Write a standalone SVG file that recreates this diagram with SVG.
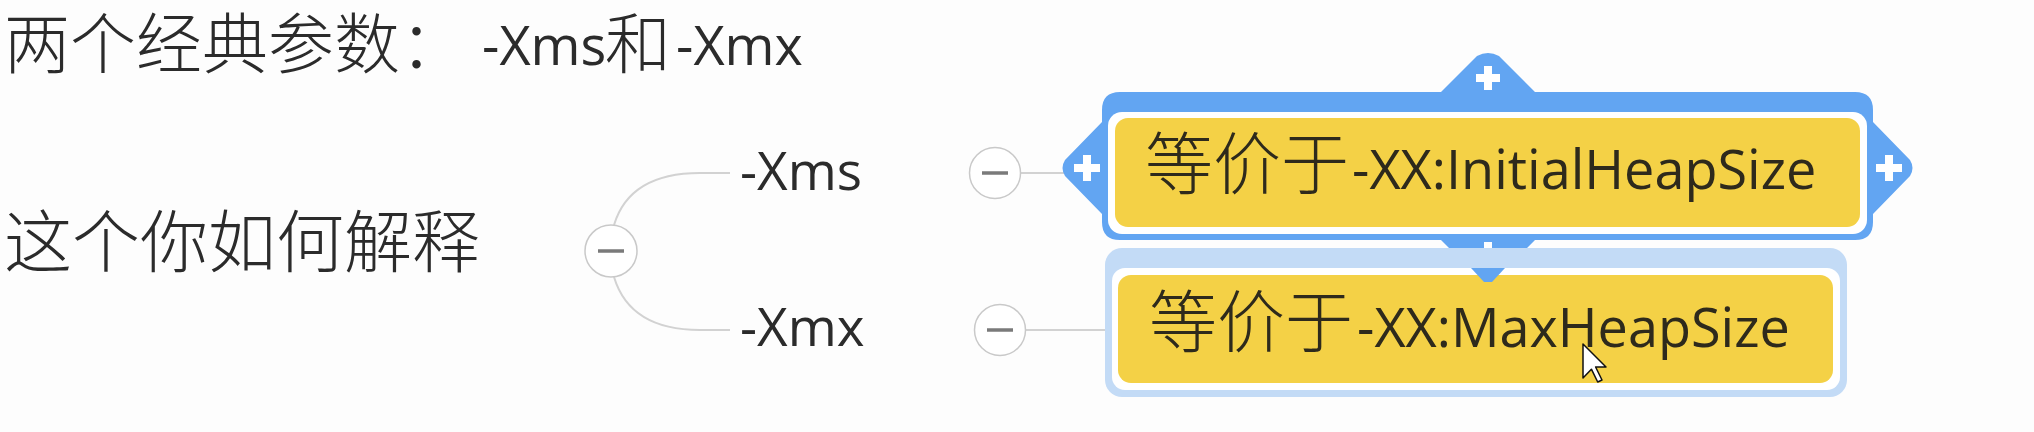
<svg xmlns="http://www.w3.org/2000/svg" width="2034" height="432" viewBox="0 0 2034 432">
<style>
.cjk{font-family:"Noto Sans CJK SC","Noto Sans",sans-serif;font-weight:300;}
.lat{font-family:"Open Sans","Noto Sans",sans-serif;}
.txt{fill:#2b2b2b}
.ntxt{fill:#2e2a1c}
.conn{fill:none;stroke:#d2d2d2;stroke-width:2}
.col{fill:#fff;stroke:#c9c9c9;stroke-width:1.5}
.minus{stroke:#7a7a7a;stroke-width:3.5}
.plus{fill:#fff}
.yellow{fill:#f4d146}
</style>
<rect width="2034" height="432" fill="#fdfdfd"/>

<g id="connectors">
  <path class="conn" d="M614,225 C624,192 650,173 700,173 L730,173"/>
  <path class="conn" d="M614,277 C624,310 650,330 700,330 L730,330"/>
  <path class="conn" d="M1021,173 L1115,173"/>
  <path class="conn" d="M1025,330 L1118,330"/>
</g>

<g id="title">
  <text y="68" class="txt"><tspan x="4" class="cjk" font-size="66">两个经典参数：</tspan><tspan x="482" y="65" class="lat" font-size="54">-Xms</tspan><tspan x="605" y="68" class="cjk" font-size="66">和</tspan><tspan x="676" y="65" class="lat" font-size="54">-Xmx</tspan></text>
</g>

<g id="root">
  <text x="4" y="267" class="txt cjk" font-size="68">这个你如何解释</text>
  <circle class="col" cx="611" cy="251" r="26"/>
  <line class="minus" x1="598" y1="251" x2="624" y2="251"/>
</g>

<g id="xms">
  <text x="740" y="190" class="txt lat" font-size="53">-Xms</text>
  <circle class="col" cx="995" cy="173" r="25.5"/>
  <line class="minus" x1="982" y1="173" x2="1008" y2="173"/>
</g>

<g id="xmx">
  <text x="740" y="346" class="txt lat" font-size="53">-Xmx</text>
  <circle class="col" cx="1000" cy="330" r="25.5"/>
  <line class="minus" x1="987" y1="330" x2="1013" y2="330"/>
</g>

<g id="node-initial">
  <path fill="#62a5f2" d="M1120,92 H1441 L1477,56 Q1488,50 1499,56 L1535,92 H1855 Q1873,92 1873,110 V122 L1910,160 Q1915,168 1910,176 L1873,214 V222 Q1873,240 1855,240 H1535 L1499,276 Q1488,284 1477,276 L1441,240 H1120 Q1102,240 1102,222 V214 L1065,176 Q1060,168 1065,160 L1102,122 V110 Q1102,92 1120,92 Z"/>
  <rect x="1108" y="112" width="759" height="122" rx="14" fill="#ffffff"/>
  <rect class="yellow" x="1115" y="118" width="745" height="109" rx="13"/>
  <g class="plus">
    <rect x="1484" y="66" width="8" height="24"/><rect x="1476" y="74" width="24" height="8"/>
    <rect x="1083" y="155" width="8" height="26"/><rect x="1074" y="164" width="26" height="8"/>
    <rect x="1885" y="155" width="8" height="26"/><rect x="1876" y="164" width="26" height="8"/>
    <rect x="1484" y="242" width="8" height="24"/>
  </g>
  <text y="189" class="ntxt"><tspan x="1145" class="cjk" font-size="68">等价于</tspan><tspan x="1352" class="lat" font-size="54">-XX:InitialHeapSize</tspan></text>
</g>

<g id="node-max">
  <rect x="1105" y="248" width="742" height="149" rx="17" fill="#c3dbf6"/>
  <rect x="1112" y="268" width="728" height="122" rx="13" fill="#ffffff"/>
  <rect class="yellow" x="1118" y="275" width="715" height="108" rx="13"/>
  <polygon fill="#62a5f2" points="1471,268 1505,268 1492,282 1484,282"/>
  <text y="347" class="ntxt"><tspan x="1149" class="cjk" font-size="68">等价于</tspan><tspan x="1357" class="lat" font-size="54">-XX:MaxHeapSize</tspan></text>
</g>

<g id="cursor">
  <path d="M1583,344 L1583,378 L1591.4,369.2 L1597.7,382 L1602,380 L1595.6,367 L1606,367 Z" fill="#ffffff" stroke="#111" stroke-width="1.5" stroke-linejoin="round"/>
</g>
</svg>
